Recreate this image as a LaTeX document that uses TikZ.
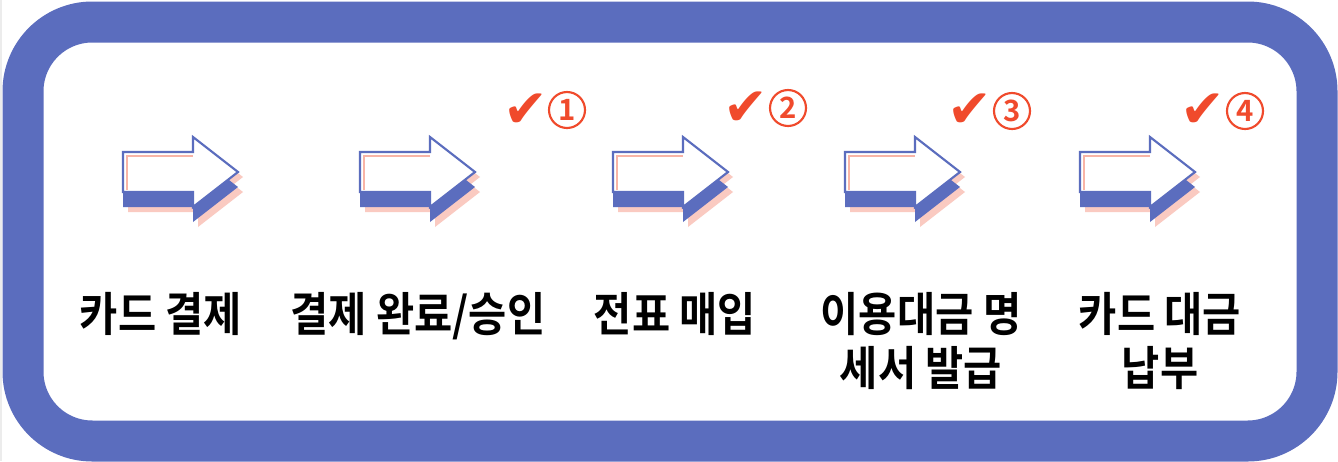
\documentclass[tikz,border=0pt]{standalone}
\usepackage{fontspec}
\newfontfamily\kr{Noto Sans CJK KR}[BoldFont={Noto Sans CJK KR Bold}, BoldFeatures={FakeStretch=0.89}]
\newfontfamily\kn{Noto Sans CJK KR}[BoldFont={Noto Sans CJK KR Bold}]
\newfontfamily\dv{DejaVu Sans}
\definecolor{frameblue}{HTML}{5B6DBE}
\definecolor{shadowpink}{HTML}{F8B4A6}
\definecolor{checkred}{HTML}{F04A2C}
\tikzset{
  lbl/.style={font=\kr\bfseries\fontsize{35}{40.5}\selectfont, text=black, align=center, inner sep=0pt},
  chk/.style={font=\dv\fontsize{40}{42}\selectfont, text=checkred, inner sep=0pt},
  num/.style={circle, draw=checkred, line width=1.6pt, minimum size=27pt, inner sep=0pt,
    font=\kn\bfseries\fontsize{22}{24}\selectfont, text=checkred},
}
\newcommand\arrowpath{(0,152) -- (70,152) -- (70,137) -- (115,172) -- (70,207) -- (70,192) -- (0,192) -- cycle}
\newcommand\fatarrow[1]{%
  \begin{scope}[shift={(#1,0)}]
    \fill[shadowpink!70, shift={(5,20)}] \arrowpath;
    \fill[shadowpink!70, shift={(5,5)}] \arrowpath;
    \fill[frameblue, shift={(0,15)}] \arrowpath;
    \fill[frameblue] \arrowpath;
    \fill[white] \arrowpath;
    \draw[shadowpink, line width=2pt] (4,190) -- (4,156) -- (70,156);
    \draw[frameblue, line width=1.6pt, line join=miter] \arrowpath;
  \end{scope}}
\begin{document}
\begin{tikzpicture}[x=0.75pt, y=-0.75pt]
  \useasboundingbox (0,0) rectangle (1338,461);
  \fill[white] (0,0) rectangle (1338,461);
  \fill[gray!15] (0,0) rectangle (2,461);
  \draw[frameblue, line width=30.75pt, rounded corners=52pt] (23,22) rectangle (1317,441);

  \fatarrow{123}
  \fatarrow{360}
  \fatarrow{613}
  \fatarrow{845}
  \fatarrow{1080}

  \node[chk] (c1) at (526,111) {✔};
  \node[num] (n1) at (567,110) {1};
  \node[chk] (c2) at (746,109) {✔};
  \node[num] (n2) at (788,108) {2};
  \node[chk] (c3) at (970,111) {✔};
  \node[num] (n3) at (1012,111) {3};
  \node[chk] (c4) at (1203,111) {✔};
  \node[num] (n4) at (1245,111) {4};

  \node[lbl, anchor=base] (t1) at (161,331) {카드 결제};
  \node[lbl, anchor=base] (t2) at (418,331) {결제 완료/승인};
  \node[lbl, anchor=base] (t3) at (675,331) {전표 매입};
  \node[lbl, anchor=base] (t4) at (921,385) {이용대금 명\\세서 발급};
  \node[lbl, anchor=base] (t5) at (1160,385) {카드 대금\\납부};
\end{tikzpicture}
\end{document}
